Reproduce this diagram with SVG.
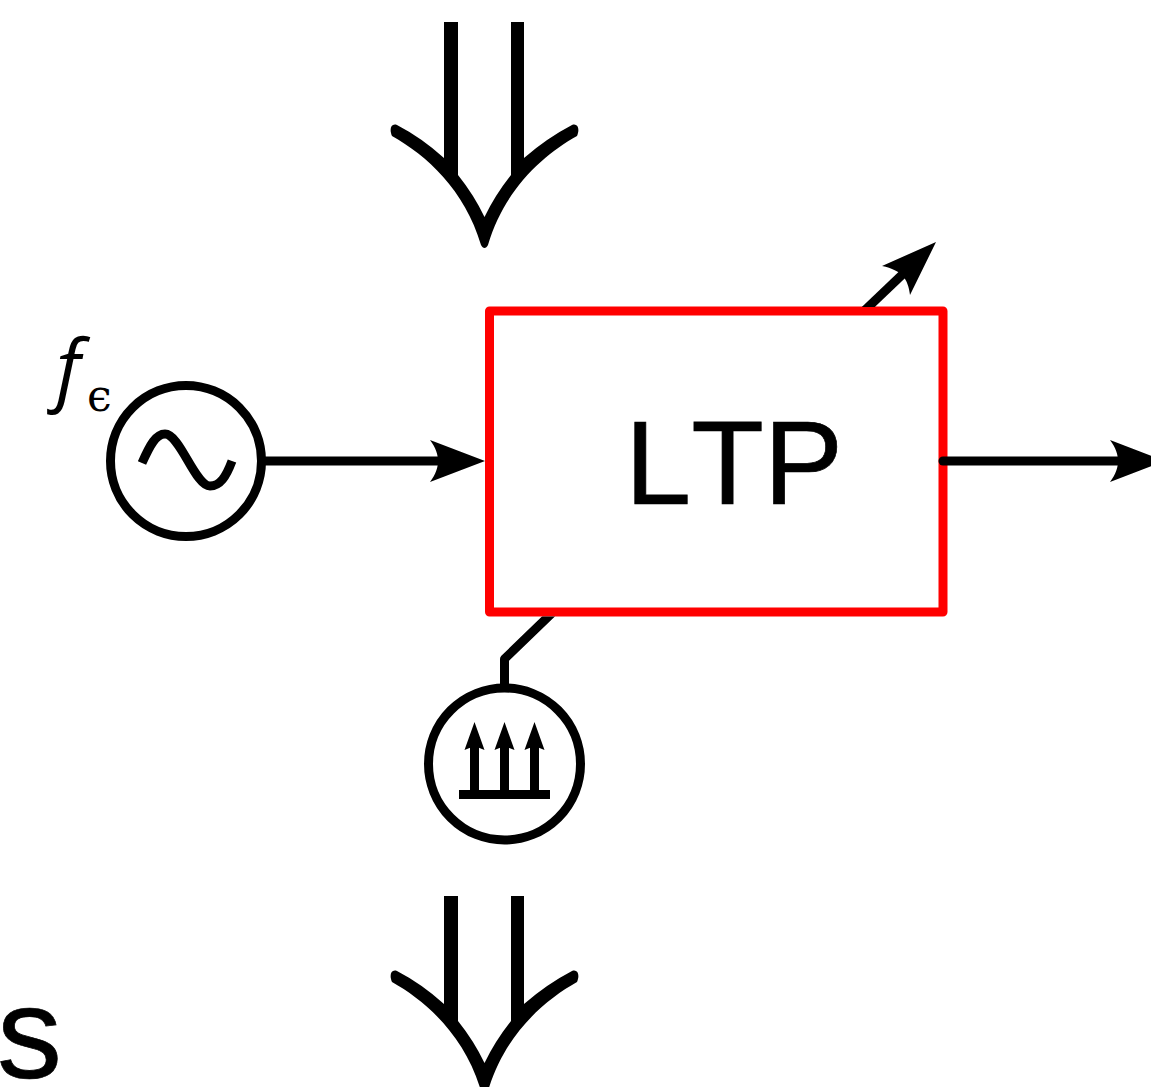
<svg xmlns="http://www.w3.org/2000/svg" width="1151" height="1087" viewBox="0 0 1151 1087">
<style>
.ln{fill:none;stroke:#000;stroke-width:9;stroke-linejoin:round}
.hd{fill:#000;stroke:none}
.sans{font-family:"Liberation Sans",Arial,sans-serif;fill:#000;stroke:#000;stroke-width:.7;font-kerning:none}
.math{font-family:"Open Sans","Liberation Serif",serif;font-style:italic;fill:#000}
.eps{font-family:"DejaVu Serif",serif;fill:#000}
</style>
<defs>
<path id="bighead" d="M444 158V22H458V175Q474 195 484.500 217Q495 195 511 175V22H524V158Q547 138 572 125C578 123 580 129 577 136C543 155 504 190 488 245C486 249 483 249 481 245C465 190 426 155 392 136C389 129 391 123 397 125Q422 138 444 158Z"/>
<path id="head" d="M0 0L-55 21C-49 13 -47 6 -47 0C-47 -6 -49 -13 -55 -21Z"/>
<clipPath id="lowclip"><rect x="380" y="896" width="210" height="191"/></clipPath>
<clipPath id="abovebox"><rect x="840" y="230" width="110" height="77"/></clipPath>
<clipPath id="belowbox"><rect x="490" y="616.500" width="80" height="80"/></clipPath>
</defs>
<g id="input-top"><use href="#bighead" class="hd"/></g>
<g id="input-bottom" clip-path="url(#lowclip)"><use href="#bighead" y="846" class="hd"/></g>
<g id="ltp">
<rect x="489.500" y="311" width="453.500" height="301" fill="none" stroke="#f00" stroke-width="9" stroke-linejoin="round"/>
<text class="sans" x="625" y="504" font-size="119">LTP</text>
</g>
<g id="generator">
<circle cx="186" cy="461" r="75.500" fill="#fff" stroke="#000" stroke-width="9"/>
<path class="ln" d="M142 463C150 445 156 434 165 434C180 434 195 486 210 486C220 486 226 477 232 461"/>
</g>
<g id="generator-label">
<text class="math" x="56" y="396" font-size="78">f</text>
<text class="eps" x="87" y="411" font-size="44">ϵ</text>
</g>
<g id="pump">
<circle cx="504.500" cy="764" r="76" fill="#fff" stroke="#000" stroke-width="9"/>
<rect class="hd" x="459" y="790" width="91" height="9"/>
<path class="ln" d="M474.500 792V745M504.500 792V745M534.500 792V745"/>
<path class="hd" d="M474.500 722L484.500 750L474.500 746L464.500 750ZM504.500 722L514.500 750L504.500 746L494.500 750ZM534.500 722L544.500 750L534.500 746L524.500 750Z"/>
</g>
<g id="side-label"><text class="sans" x="-3" y="1078" font-size="130">s</text></g>
<g id="connectors">
<path class="ln" d="M265 461H440"/>
<use href="#head" x="485" y="461" class="hd"/>
<path class="ln" d="M943 461H1120" stroke-linecap="round"/>
<use href="#head" x="1165" y="461" class="hd"/>
<path class="ln" d="M862 313L905 272" clip-path="url(#abovebox)"/>
<path class="hd" d="M936 242L882 266C892 268 899 272 903 276C907 281 909 287 910 295Z"/>
<path class="ln" d="M504.500 688V659L552 613" clip-path="url(#belowbox)"/>
</g>
</svg>
